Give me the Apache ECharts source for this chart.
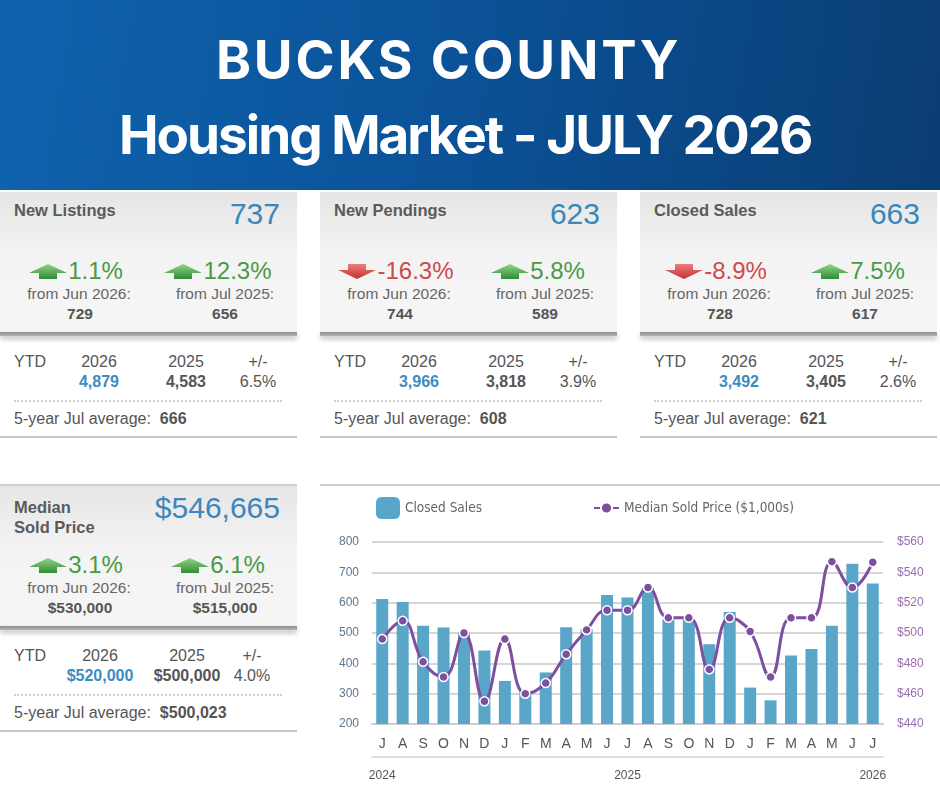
<!DOCTYPE html>
<html>
<head>
<meta charset="utf-8">
<title>Bucks County Housing Market - July 2026</title>
<script src="https://cdn.jsdelivr.net/npm/echarts@6/dist/echarts.min.js"></script>
<style>
  html, body { margin: 0; padding: 0; background: #fff; }
  body { width: 940px; height: 788px; position: relative; overflow: hidden; font-family: 'Liberation Sans', Arial, Helvetica, sans-serif; }
  #header { position: absolute; left: 0; top: 0; width: 940px; height: 190px;
    background: linear-gradient(100deg, #0f63ad 0%, #0b539a 45%, #0a3d72 100%); }
  .title { position: absolute; color: #fff; font-family: Inter, 'Noto Sans', sans-serif; font-weight: 700; font-size: 53px; line-height: 53px; white-space: nowrap; }
  .panel { position: absolute; width: 297px; height: 247px; }
  .panel .top { position: absolute; left: 0; top: 0; width: 297px; height: 141px;
    background: linear-gradient(#e6e6e6 0%, #f3f3f3 45%, #f6f6f6 100%); }
  .panel .bar { position: absolute; left: 0; top: 140px; width: 297px; height: 4px;
    background: linear-gradient(#8e8e8e, #b5b5b5); box-shadow: 0 3px 5px rgba(0,0,0,0.28); }
  .panel .dots { position: absolute; left: 14px; top: 208px; width: 268px; border-top: 2px dotted #cfcfcf; }
  .panel .bottom { position: absolute; left: 0; top: 244px; width: 297px; border-top: 2px solid #c9c9c9; }
  .panel .line { position: absolute; left: 0; top: -2px; width: 297px; border-top: 2px solid #cfcfcf; }
  .t { position: absolute; white-space: nowrap; line-height: 20px; height: 20px; }
  .name { font-weight: 700; font-size: 16.5px; color: #5a5a5a; }
  .big { font-size: 30px; color: #3b86ba; line-height: 34px; height: 34px; }
  .from { font-size: 15.5px; color: #666; text-align: center; width: 150px; }
  .val { font-size: 15.5px; font-weight: 700; color: #555; text-align: center; width: 150px; }
  .chg { display: flex; align-items: center; justify-content: center; width: 150px; line-height: 28px; height: 28px; font-size: 24px; }
  .chg svg { margin-right: 1px; }
  .ytd { font-size: 16px; color: #555; text-align: center; width: 100px; }
  .ytd b { font-weight: 700; }
  .blue { color: #3a8cc2; }
  #chartBox { position: absolute; left: 320px; top: 484px; width: 620px; height: 304px; border-top: 2px solid #cfcfcf; }
  #chart { position: absolute; left: 0; top: 0; width: 620px; height: 304px; }
</style>
</head>
<body>

<div id="header">
  <div class="title" style="left:216px; top:34px; letter-spacing:2.8px;">BUCKS COUNTY</div>
  <div class="title" style="left:119px; top:109px; letter-spacing:-2px;">Housing Market - JULY 2026</div>
</div>

<div id="panels"></div>

<div id="chartBox"><div id="chart"></div></div>

<script>
// ---- chart data (Jul 2024 .. Jul 2026) ----
var months = ['J', 'A', 'S', 'O', 'N', 'D', 'J', 'F', 'M', 'A', 'M', 'J',
              'J', 'A', 'S', 'O', 'N', 'D', 'J', 'F', 'M', 'A', 'M', 'J', 'J'];
var yearLabels = ['2024', '', '', '', '', '', '', '', '', '', '', '',
                  '2025', '', '', '', '', '', '', '', '', '', '', '', '2026'];
var closedSales = [612, 602, 524, 518, 502, 442, 342, 305, 370, 519, 513, 625,
                   617, 649, 545, 545, 463, 569, 320, 278, 426, 447, 524, 728, 663];
var medianPrice = [496, 508, 481, 471, 500, 455, 496, 460, 467, 486, 502, 515,
                   515, 530, 510, 510, 476, 510, 501, 471, 510, 510, 547, 530, 546.665];

// ---- summary panels ----
var panelNames = [['New Listings'], ['New Pendings'], ['Closed Sales'], ['Median', 'Sold Price']];
var panelCurrent = ['737', '623', '663', '$546,665'];
var panelMonthChg = ['1.1%', '-16.3%', '-8.9%', '3.1%'];
var panelYearChg = ['12.3%', '5.8%', '7.5%', '6.1%'];
var panelPrevMonth = ['729', '744', '728', '$530,000'];
var panelPrevYear = ['656', '589', '617', '$515,000'];
var ytdThis = ['4,879', '3,966', '3,492', '$520,000'];
var ytdLast = ['4,583', '3,818', '3,405', '$500,000'];
var ytdDiff = ['6.5%', '3.9%', '2.6%', '4.0%'];
var fiveYearAvg = ['666', '608', '621', '$500,023'];
var panelPos = [[0, 192], [320, 192], [640, 192], [0, 486]];

function arrow(up) {
  var id = up ? 'gUp' : 'gDown';
  var c1 = up ? '#93d486' : '#ee7d7d';
  var c2 = up ? '#2f8c35' : '#c42f2f';
  var pts = up ? '0,9 19,0 38,9 28,9 28,15 10,15 10,9' : '10,0 28,0 28,6 38,6 19,15 0,6 10,6';
  return '<svg width="38" height="15" viewBox="0 0 38 15"><defs><linearGradient id="' + id +
    '" x1="0" y1="0" x2="0" y2="1"><stop offset="0" stop-color="' + c1 + '"/><stop offset="1" stop-color="' +
    c2 + '"/></linearGradient></defs><polygon points="' + pts + '" fill="url(#' + id + ')"/></svg>';
}

function chg(txt, left, top) {
  var up = txt.charAt(0) !== '-';
  var col = up ? '#4a9a44' : '#d0494a';
  return '<div class="t chg" style="left:' + left + 'px;top:' + top + 'px;color:' + col + '">' + arrow(up) + '<span>' + txt + '</span></div>';
}

var html = '';
for (var i = 0; i < panelNames.length; i++) {
  var p = panelPos[i];
  var s = '<div class="panel" style="left:' + p[0] + 'px;top:' + p[1] + 'px;">';
  s += '<div class="top"></div><div class="bar"></div><div class="dots"></div><div class="bottom"></div>';
  if (panelNames[i].length === 1) {
    s += '<div class="t name" style="left:14px;top:8px;">' + panelNames[i][0] + '</div>';
  } else {
    // second row panel has a rule on top like the chart box
    s += '<div class="line"></div>';
    s += '<div class="t name" style="left:14px;top:11px;">' + panelNames[i][0] + '</div>';
    s += '<div class="t name" style="left:14px;top:31px;">' + panelNames[i][1] + '</div>';
  }
  s += '<div class="t big" style="right:17px;top:5px;">' + panelCurrent[i] + '</div>';
  s += chg(panelMonthChg[i], 1, 65);
  s += chg(panelYearChg[i], 143, 65);
  s += '<div class="t from" style="left:4px;top:92px;">from Jun 2026:</div>';
  s += '<div class="t from" style="left:150px;top:92px;">from Jul 2025:</div>';
  s += '<div class="t val" style="left:5px;top:112px;">' + panelPrevMonth[i] + '</div>';
  s += '<div class="t val" style="left:150px;top:112px;">' + panelPrevYear[i] + '</div>';
  var cx = i === 3 ? [100, 187, 252] : [99, 186, 258];
  s += '<div class="t ytd" style="left:14px;top:160px;text-align:left;width:50px;">YTD</div>';
  s += '<div class="t ytd" style="left:' + (cx[0] - 50) + 'px;top:160px;">2026</div>';
  s += '<div class="t ytd" style="left:' + (cx[1] - 50) + 'px;top:160px;">2025</div>';
  s += '<div class="t ytd" style="left:' + (cx[2] - 50) + 'px;top:160px;">+/-</div>';
  s += '<div class="t ytd blue" style="left:' + (cx[0] - 50) + 'px;top:180px;"><b>' + ytdThis[i] + '</b></div>';
  s += '<div class="t ytd" style="left:' + (cx[1] - 50) + 'px;top:180px;"><b>' + ytdLast[i] + '</b></div>';
  s += '<div class="t ytd" style="left:' + (cx[2] - 50) + 'px;top:180px;">' + ytdDiff[i] + '</div>';
  s += '<div class="t ytd" style="left:14px;top:217px;text-align:left;width:260px;">5-year Jul average:&nbsp; <b>' + fiveYearAvg[i] + '</b></div>';
  s += '</div>';
  html += s;
}
document.getElementById('panels').innerHTML = html;

// ---- combo chart ----
var narrow = "'Liberation Sans Narrow', 'DejaVu Sans Condensed', 'Liberation Sans', sans-serif";
var myChart = echarts.init(document.getElementById('chart'));
var option = {
  animation: false,
  textStyle: { fontFamily: "'Liberation Sans', Arial, sans-serif" },
  legend: [{
    left: 51, top: 6,
    itemWidth: 24, itemHeight: 22,
    data: [{ name: 'Closed Sales', icon: 'roundRect' }],
    textStyle: { color: '#666', fontSize: 13.5, fontFamily: narrow }
  }, {
    left: 268, top: 10,
    itemWidth: 25, itemHeight: 14,
    data: ['Median Sold Price ($1,000s)'],
    textStyle: { color: '#666', fontSize: 13.5, fontFamily: narrow }
  }],
  grid: { left: 52, right: 57, top: 56, bottom: 66 },
  xAxis: [{
    type: 'category',
    data: months,
    axisLine: { lineStyle: { color: '#cfcfcf', width: 2 } },
    axisTick: { length: 5, lineStyle: { color: '#bdbdbd' } },
    axisLabel: { color: '#555', fontSize: 14, margin: 13, interval: 0 }
  }, {
    type: 'category',
    position: 'bottom',
    offset: 33,
    data: yearLabels,
    axisLine: { lineStyle: { color: '#d3d3d3', width: 1.5 } },
    axisTick: {
      length: 5,
      lineStyle: { color: '#c4c4c4' },
      interval: function (idx) { return idx === 1 || idx === 13; }
    },
    axisLabel: { color: '#555', fontSize: 12, margin: 13, interval: 0 }
  }],
  yAxis: [{
    type: 'value',
    min: 200, max: 800, interval: 100,
    axisLine: { show: false },
    axisTick: { show: false },
    axisLabel: { color: '#5b7892', fontSize: 12, margin: 13 },
    splitLine: { lineStyle: { color: '#c9c9c9', width: 1.5 } }
  }, {
    type: 'value',
    position: 'right',
    min: 440, max: 560, interval: 20,
    axisLine: { show: false },
    axisTick: { show: false },
    axisLabel: {
      color: '#9a6cb0', fontSize: 12, margin: 14,
      formatter: function (v) { return '$' + v; }
    },
    splitLine: { show: false }
  }],
  series: [{
    name: 'Closed Sales',
    type: 'bar',
    data: closedSales,
    barWidth: 12,
    itemStyle: { color: '#5aa6c9' }
  }, {
    name: 'Median Sold Price ($1,000s)',
    type: 'line',
    yAxisIndex: 1,
    data: medianPrice,
    smooth: 0.45,
    symbol: 'circle',
    symbolSize: 9,
    z: 5,
    lineStyle: { color: '#7d4f9e', width: 3 },
    itemStyle: { color: '#7d4f9e', borderColor: '#fff', borderWidth: 1.5 }
  }]
};
myChart.setOption(option);
</script>
</body>
</html>
